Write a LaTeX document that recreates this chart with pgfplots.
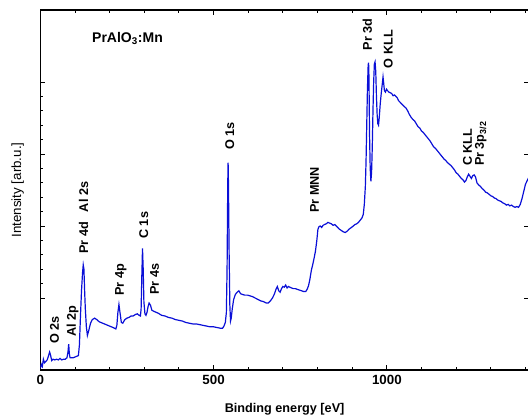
\documentclass[border=0pt]{standalone}
\usepackage{pgfplots}
\pgfplotsset{compat=1.18}
\usepackage{fontspec}
\setmainfont{Liberation Sans}
\definecolor{specblue}{RGB}{10,15,215}

\pgfplotstableread{
E y
0 0.02
3 0.08
6 0.05
9 0.15
12 0.10
16 0.12
20 0.14
24 0.20
27 0.25
30 0.20
33 0.13
37 0.15
42 0.14
47 0.15
52 0.14
57 0.16
62 0.14
67 0.15
72 0.15
77 0.17
80 0.25
82 0.36
84 0.22
86 0.17
90 0.17
95 0.17
100 0.18
105 0.19
110 0.20
113 0.35
116 0.75
119 1.10
122 1.35
124 1.46
126 1.40
128 1.10
130 0.85
133 0.60
136 0.48
140 0.55
145 0.65
150 0.70
157 0.72
163 0.70
170 0.67
180 0.65
190 0.63
200 0.61
210 0.59
218 0.57
221 0.62
224 0.80
227 0.91
230 0.80
234 0.66
238 0.65
244 0.70
250 0.72
256 0.73
262 0.75
268 0.75
274 0.77
280 0.78
285 0.76
289 0.75
291 0.85
293 1.30
295 1.69
297 1.40
299 0.95
302 0.78
305 0.76
308 0.80
311 0.88
314 0.93
318 0.90
322 0.83
330 0.81
340 0.79
350 0.76
360 0.75
370 0.73
380 0.72
390 0.70
400 0.69
410 0.68
420 0.66
430 0.65
440 0.64
450 0.64
460 0.63
470 0.62
480 0.61
490 0.60
500 0.60
510 0.59
520 0.58
526 0.58
530 0.61
534 0.66
537 0.80
539 1.40
541 2.60
542 2.88
543 2.60
545 1.60
547 0.90
549 0.68
551 0.72
554 0.85
558 0.98
563 1.05
568 1.08
573 1.10
578 1.06
583 1.05
590 1.04
598 1.04
605 1.03
612 1.02
620 1.00
628 0.98
636 0.96
644 0.95
652 0.93
658 0.93
664 0.96
670 1.00
676 1.06
680 1.12
684 1.16
688 1.10
692 1.08
696 1.13
700 1.16
704 1.15
708 1.18
712 1.14
716 1.16
720 1.15
725 1.14
730 1.13
736 1.13
742 1.12
748 1.11
754 1.10
760 1.09
766 1.09
770 1.12
774 1.17
778 1.26
782 1.38
786 1.46
790 1.55
794 1.65
798 1.80
801 1.95
804 1.99
808 2.00
812 1.98
816 2.01
820 2.02
825 2.03
830 2.05
835 2.04
840 2.03
845 2.01
850 2.02
856 1.99
862 1.96
868 1.94
874 1.92
880 1.91
886 1.93
892 1.96
898 1.98
903 2.00
908 2.02
913 2.03
918 2.05
923 2.08
928 2.11
932 2.16
935 2.30
938 2.55
940 2.90
942 3.40
944 3.90
946 4.22
947 4.27
948 4.20
949 3.80
950 3.30
952 2.80
954 2.62
956 2.75
958 3.10
960 3.60
962 4.00
964 4.25
966 4.28
968 4.15
970 3.80
972 3.55
974 3.42
976 3.40
978 3.50
981 3.70
984 3.85
987 3.98
989 4.07
991 3.98
993 3.88
996 3.86
999 3.90
1002 3.88
1006 3.86
1010 3.85
1014 3.84
1018 3.81
1022 3.82
1026 3.80
1030 3.78
1034 3.74
1038 3.72
1042 3.70
1046 3.68
1050 3.66
1055 3.64
1060 3.60
1065 3.55
1070 3.51
1075 3.48
1080 3.46
1085 3.42
1090 3.38
1095 3.36
1100 3.32
1105 3.30
1110 3.27
1115 3.24
1120 3.21
1125 3.18
1130 3.14
1135 3.10
1140 3.08
1145 3.05
1150 3.02
1155 2.99
1160 2.96
1165 2.93
1170 2.91
1175 2.88
1180 2.86
1185 2.84
1190 2.81
1195 2.78
1200 2.74
1205 2.72
1210 2.69
1215 2.66
1220 2.64
1224 2.61
1228 2.63
1232 2.68
1236 2.72
1240 2.69
1244 2.66
1248 2.70
1252 2.71
1256 2.68
1260 2.60
1265 2.57
1270 2.55
1275 2.52
1280 2.50
1285 2.47
1290 2.46
1295 2.44
1300 2.42
1305 2.41
1310 2.39
1315 2.38
1320 2.36
1325 2.35
1330 2.34
1335 2.32
1340 2.31
1345 2.29
1350 2.30
1355 2.28
1360 2.29
1365 2.27
1370 2.26
1375 2.27
1380 2.26
1385 2.30
1390 2.38
1395 2.48
1400 2.58
1405 2.63
1410 2.68
}\spectrum

\begin{document}
\begin{tikzpicture}
\path[use as bounding box, clip] (-30.2pt,-36pt) rectangle (365.8pt,277.5pt);
\begin{axis}[
  at={(0,0)}, anchor=south west,
  scale only axis, width=366.5pt, height=270pt,
  xmin=0, xmax=1410, ymin=0, ymax=5,
  xtick={0,500,1000}, minor xtick={100,200,...,1400},
  ytick={1,2,3,4}, yticklabels={}, minor y tick num=4,
  ytick pos=left,
  tick align=inside,
  major tick length=3.75pt, minor tick length=2.2pt,
  tick style={black, line width=0.6pt},
  axis line style={line width=0.8pt},
  /pgf/number format/assume math mode=true,
  /pgf/number format/1000 sep={},
  tick label style={font=\fontsize{10}{12}\selectfont\bfseries},
  xlabel={Binding energy [eV]},
  xlabel style={font=\fontsize{9.5}{11}\selectfont\bfseries, at={(axis description cs:0.5,-0.119)}, anchor=base, inner sep=0pt},
  ylabel={Intensity [arb.u.]},
  ylabel style={font=\fontsize{10}{12}\selectfont, at={(axis description cs:-0.033,0.5)}, anchor=south, inner sep=0pt},
  clip=true,
]
\addplot[color=specblue, line width=0.9pt] table[x=E, y=y] {\spectrum};
\begin{scope}[every node/.style={rotate=90, anchor=base west, inner sep=0pt, font=\fontsize{9.5}{11}\selectfont\bfseries}]
\node at (axis cs:54,0.36) {O 2s};
\node at (axis cs:103,0.46) {Al 2p};
\node at (axis cs:138,1.61) {Pr 4d};
\node at (axis cs:138,2.19) {Al 2s};
\node at (axis cs:241,1.03) {Pr 4p};
\node at (axis cs:311,1.82) {C 1s};
\node at (axis cs:342,1.04) {Pr 4s};
\node at (axis cs:559,3.06) {O 1s};
\node at (axis cs:804,2.18) {Pr MNN};
\node at (axis cs:957,4.44) {Pr 3d};
\node at (axis cs:1017,4.19) {O KLL};
\node at (axis cs:1245,2.83) {C KLL};
\node at (axis cs:1280,2.83) {Pr 3p\textsubscript{3/2}};
\end{scope}
\node[anchor=base west, inner sep=0pt, font=\fontsize{10.5}{12}\selectfont\bfseries] at (axis cs:149,4.546) {PrAlO\textsubscript{3}:Mn};
\end{axis}
\begin{axis}[
  at={(0,0)}, anchor=south west,
  scale only axis, width=366.5pt, height=270pt,
  xmin=0, xmax=1410, ymin=0, ymax=5,
  hide x axis, axis y line*=right,
  ytick={1,2,3,4}, yticklabels={},
  tick align=inside, major tick length=3.75pt,
  tick style={black, line width=0.6pt},
  axis line style={line width=0.8pt},
]
\end{axis}
\end{tikzpicture}
\end{document}
